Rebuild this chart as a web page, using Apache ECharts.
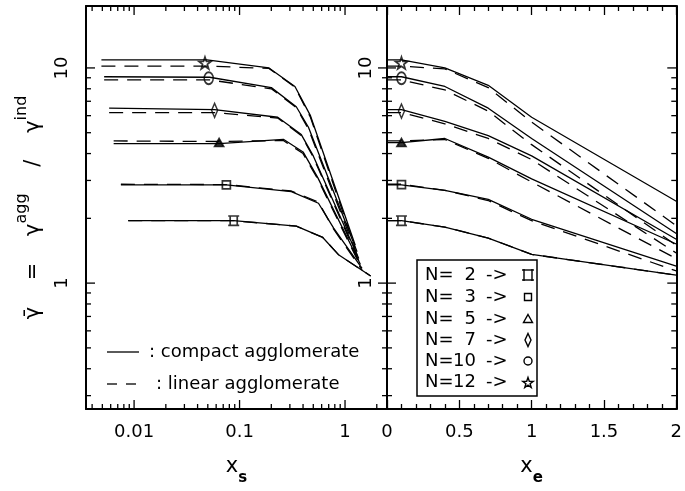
<!DOCTYPE html>
<html><head><meta charset="utf-8">
<script src="https://cdn.jsdelivr.net/npm/echarts@6/dist/echarts.min.js"></script>
<style>html,body{margin:0;padding:0;background:#fff}#c{width:685px;height:491px}</style>
</head><body><div id="c"></div>
<script>
// ---------- data ----------
// left panel: x_s (log) ; y = gamma ratio (log)
const left_x_N12 = [0.0049, 0.049, 0.19, 0.335, 0.47, 1.25];
const left_compact_N12 = [10.9, 10.9, 10.0, 8.2, 6.0, 1.5];
const left_linear_N12 = [10.2, 10.2, 9.95, 8.15, 5.9, 1.45];
const left_x_N10 = [0.0052, 0.052, 0.2, 0.345, 0.45, 1.3];
const left_compact_N10 = [9.1, 9.05, 8.1, 6.6, 5.3, 1.4];
const left_linear_N10 = [8.8, 8.8, 8.0, 6.55, 5.2, 1.35];
const left_x_N7 = [0.0058, 0.058, 0.23, 0.385, 0.5, 1.35];
const left_compact_N7 = [6.5, 6.4, 5.9, 4.9, 3.9, 1.3];
const left_linear_N7 = [6.2, 6.2, 5.85, 4.85, 3.85, 1.27];
const left_x_N5 = [0.0064, 0.064, 0.26, 0.4, 0.55, 1.4];
const left_compact_N5 = [4.45, 4.45, 4.66, 4.07, 3.1, 1.22];
const left_linear_N5 = [4.58, 4.55, 4.6, 4.0, 3.05, 1.2];
const left_x_N3 = [0.0075, 0.075, 0.31, 0.56, 0.78, 1.45];
const left_compact_N3 = [2.86, 2.86, 2.66, 2.35, 1.8, 1.17];
const left_linear_N3 = [2.88, 2.87, 2.68, 2.38, 1.78, 1.15];
const left_x_N2 = [0.0088, 0.088, 0.345, 0.615, 0.875, 1.75];
const left_compact_N2 = [1.95, 1.95, 1.84, 1.63, 1.35, 1.08];
const left_linear_N2 = [1.95, 1.95, 1.84, 1.63, 1.35, 1.08];

// right panel: x_e (linear)
const right_x = [0, 0.1, 0.4, 0.7, 1.0, 2.0];
const right_compact_N12 = [10.9, 10.9, 10.0, 8.3, 5.9, 2.4];
const right_linear_N12 = [10.2, 10.2, 9.9, 8.1, 5.6, 1.85];
const right_compact_N10 = [9.1, 9.1, 8.2, 6.5, 4.7, 1.7];
const right_linear_N10 = [8.8, 8.8, 7.9, 6.3, 4.4, 1.5];
const right_compact_N7 = [6.4, 6.4, 5.65, 4.85, 3.9, 1.6];
const right_linear_N7 = [6.2, 6.2, 5.5, 4.7, 3.75, 1.38];
const right_compact_N5 = [4.5, 4.5, 4.7, 3.85, 3.05, 1.52];
const right_linear_N5 = [4.58, 4.58, 4.65, 3.8, 2.95, 1.3];
const right_compact_N3 = [2.86, 2.86, 2.7, 2.45, 1.98, 1.2];
const right_linear_N3 = [2.88, 2.88, 2.7, 2.42, 1.95, 1.14];
const right_compact_N2 = [1.95, 1.95, 1.82, 1.62, 1.36, 1.09];
const right_linear_N2 = [1.95, 1.95, 1.82, 1.62, 1.36, 1.09];

// marker positions
const markerNames = ['N=2', 'N=3', 'N=5', 'N=7', 'N=10', 'N=12'];
const markerLeftX = [0.088, 0.075, 0.064, 0.058, 0.051, 0.047];
const markerLeftY = [1.95, 2.86, 4.5, 6.35, 8.95, 10.55];
const markerRightX = [0.1, 0.1, 0.1, 0.1, 0.1, 0.1];
const markerRightY = [1.95, 2.87, 4.5, 6.3, 8.95, 10.55];

// tick values
const xsMajorTicks = [0.01, 0.1, 1];
const xsMinorTicks = [0.004,0.005,0.006,0.007,0.008,0.009,0.02,0.03,0.04,0.05,0.06,0.07,0.08,0.09,0.2,0.3,0.4,0.5,0.6,0.7,0.8,0.9,2];
const yMajorTicks = [1, 10];
const yMinorTicks = [0.3,0.4,0.5,0.6,0.7,0.8,0.9,2,3,4,5,6,7,8,9];
const legendNums = ['2', '3', '5', '7', '10', '12'];

// ---------- chart ----------
const black = '#000';
const FF = 'DejaVu Sans';
const zip = (xs, ys) => xs.map((x, i) => [x, ys[i]]);
const isPow10 = v => { const l = Math.log10(v); return Math.abs(l - Math.round(l)) < 1e-6; };
const logFmt = v => isPow10(v) ? String(Number(Math.pow(10, Math.round(Math.log10(v))).toPrecision(6))) : '';

const starPath = 'path://M0,-10 L2.35,-3.24 L9.51,-3.09 L3.8,1.24 L5.88,8.09 L0,4 L-5.88,8.09 L-3.8,1.24 L-9.51,-3.09 L-2.35,-3.24 Z';
const boxPath = 'path://M0,1 H14 M0,13 H14 M2.5,0 V14 M11.5,0 V14';
const diamondPath = 'path://M0,-7 L3,0 L0,7 L-3,0 Z';
const markerSymbols = [boxPath, 'rect', 'triangle', diamondPath, 'circle', starPath];
const markerSizes = [[11, 11], [8, 8], [9, 8], [6, 14], [9, 12], [12, 12]];
const markerFill = ['transparent', 'transparent', '#000', 'transparent', 'transparent', 'transparent'];

const series = [];
function addLine(xs, ys, xi, yi, dashed) {
  series.push({
    type: 'line', xAxisIndex: xi, yAxisIndex: yi, data: zip(xs, ys),
    showSymbol: false, symbol: 'none', silent: true,
    lineStyle: { color: black, width: 1.3, type: dashed ? [14, 9] : 'solid' },
    z: dashed ? 2 : 3
  });
}
const leftSets = [
  [left_x_N2, left_compact_N2, left_linear_N2],
  [left_x_N3, left_compact_N3, left_linear_N3],
  [left_x_N5, left_compact_N5, left_linear_N5],
  [left_x_N7, left_compact_N7, left_linear_N7],
  [left_x_N10, left_compact_N10, left_linear_N10],
  [left_x_N12, left_compact_N12, left_linear_N12]
];
leftSets.forEach(s => { addLine(s[0], s[2], 0, 0, true); addLine(s[0], s[1], 0, 0, false); });
const rightSets = [
  [right_compact_N2, right_linear_N2],
  [right_compact_N3, right_linear_N3],
  [right_compact_N5, right_linear_N5],
  [right_compact_N7, right_linear_N7],
  [right_compact_N10, right_linear_N10],
  [right_compact_N12, right_linear_N12]
];
rightSets.forEach(s => { addLine(right_x, s[1], 2, 2, true); addLine(right_x, s[0], 2, 2, false); });

markerNames.forEach((n, i) => {
  const common = {
    type: 'scatter', symbol: markerSymbols[i], symbolSize: markerSizes[i], silent: true, z: 5,
    itemStyle: { color: markerFill[i], borderColor: black, borderWidth: 1.7 }
  };
  series.push(Object.assign({}, common, { name: n, xAxisIndex: 0, yAxisIndex: 0, data: [[markerLeftX[i], markerLeftY[i]]] }));
  series.push(Object.assign({}, common, { name: n, xAxisIndex: 2, yAxisIndex: 2, data: [[markerRightX[i], markerRightY[i]]] }));
});

function tickLine(x1, y1, x2, y2) {
  return { type: 'line', shape: { x1, y1, x2, y2 }, style: { stroke: black, lineWidth: 1.3 } };
}
// log tick marks drawn through the axis scales
series.push({
  type: 'custom', xAxisIndex: 0, yAxisIndex: 0, data: [[0.1, 1]], silent: true, z: 6, clip: false,
  renderItem: (params, api) => {
    const cs = params.coordSys;
    const ch = [];
    const bot = cs.y + cs.height, top = cs.y, L = cs.x, R = cs.x + cs.width;
    xsMinorTicks.forEach(v => { const px = api.coord([v, 1])[0]; ch.push(tickLine(px, bot, px, bot - 5), tickLine(px, top, px, top + 5)); });
    xsMajorTicks.forEach(v => { const px = api.coord([v, 1])[0]; ch.push(tickLine(px, bot, px, bot - 9), tickLine(px, top, px, top + 9)); });
    yMinorTicks.forEach(v => { const py = api.coord([0.1, v])[1]; ch.push(tickLine(L, py, L + 5, py), tickLine(R, py, R - 5, py)); });
    yMajorTicks.forEach(v => { const py = api.coord([0.1, v])[1]; ch.push(tickLine(L, py, L + 9, py), tickLine(R, py, R - 9, py)); });
    return { type: 'group', children: ch };
  }
});
series.push({
  type: 'custom', xAxisIndex: 2, yAxisIndex: 2, data: [[1, 1]], silent: true, z: 6, clip: false,
  renderItem: (params, api) => {
    const cs = params.coordSys;
    const ch = [];
    const L = cs.x, R = cs.x + cs.width;
    yMinorTicks.forEach(v => { const py = api.coord([1, v])[1]; ch.push(tickLine(L, py, L + 5, py), tickLine(R, py, R - 5, py)); });
    yMajorTicks.forEach(v => { const py = api.coord([1, v])[1]; ch.push(tickLine(L, py, L + 9, py), tickLine(R, py, R - 9, py)); });
    return { type: 'group', children: ch };
  }
});

const axLine = { show: true, onZero: false, lineStyle: { color: black, width: 2 } };
const lbl = { color: black, fontSize: 18, fontFamily: FF };
const ymin = 0.26, ymax = 19.4;
const xsmin = 0.0035, xsmax = 2.5;

const option = {
  animation: false,
  backgroundColor: '#fff',
  grid: [
    { left: 86, top: 6, width: 301, height: 403 },
    { left: 387, top: 6, width: 297, height: 403 }
  ],
  xAxis: [
    { gridIndex: 0, type: 'log', min: xsmin, max: xsmax, position: 'bottom', axisLine: axLine,
      axisTick: { show: false }, minorTick: { show: false }, splitLine: { show: false },
      axisLabel: Object.assign({ formatter: logFmt, margin: 14, showMinLabel: false, showMaxLabel: false }, lbl),
      name: '{x|x}{s|s}', nameLocation: 'middle', nameGap: 47,
      nameTextStyle: { rich: { x: { fontSize: 21, fontFamily: FF, color: black, lineHeight: 30, verticalAlign: 'top' },
                               s: { fontSize: 15, fontFamily: FF, fontWeight: 'bold', color: black, lineHeight: 15, verticalAlign: 'bottom' } } } },
    { gridIndex: 0, type: 'log', min: xsmin, max: xsmax, position: 'top', axisLine: axLine,
      axisTick: { show: false }, axisLabel: { show: false }, splitLine: { show: false } },
    { gridIndex: 1, type: 'value', min: 0, max: 2, interval: 0.5, position: 'bottom', axisLine: axLine,
      axisTick: { show: true, inside: true, length: 9, lineStyle: { color: black, width: 1.3 } },
      minorTick: { show: true, splitNumber: 5, length: 5, lineStyle: { color: black, width: 1.3 } },
      splitLine: { show: false }, minorSplitLine: { show: false },
      axisLabel: Object.assign({ formatter: v => String(v), margin: 14, hideOverlap: false, alignMaxLabel: 'center', alignMinLabel: 'center' }, lbl),
      name: '{x|x}{s|e}', nameLocation: 'middle', nameGap: 47,
      nameTextStyle: { rich: { x: { fontSize: 21, fontFamily: FF, color: black, lineHeight: 30, verticalAlign: 'top' },
                               s: { fontSize: 15, fontFamily: FF, fontWeight: 'bold', color: black, lineHeight: 15, verticalAlign: 'bottom' } } } },
    { gridIndex: 1, type: 'value', min: 0, max: 2, interval: 0.5, position: 'top', axisLine: axLine,
      axisTick: { show: true, inside: true, length: 9, lineStyle: { color: black, width: 1.3 } },
      minorTick: { show: true, splitNumber: 5, length: 5, lineStyle: { color: black, width: 1.3 } },
      splitLine: { show: false }, axisLabel: { show: false } }
  ],
  yAxis: [
    { gridIndex: 0, type: 'log', min: ymin, max: ymax, position: 'left', axisLine: axLine,
      axisTick: { show: false }, splitLine: { show: false },
      axisLabel: Object.assign({ formatter: logFmt, rotate: 90, margin: 15, showMinLabel: false, showMaxLabel: false }, lbl),
      name: '{m|γ̄    =    γ}{s|agg}{m|    /    γ}{s|ind}', nameLocation: 'middle', nameGap: 42, nameRotate: 90,
      nameTextStyle: { rich: { m: { fontSize: 21, fontFamily: FF, color: black, lineHeight: 30, verticalAlign: 'bottom' },
                               s: { fontSize: 16, fontFamily: FF, color: black, lineHeight: 16, verticalAlign: 'top' } } } },
    { gridIndex: 0, type: 'log', min: ymin, max: ymax, position: 'right', axisLine: axLine,
      axisTick: { show: false }, splitLine: { show: false }, axisLabel: { show: false } },
    { gridIndex: 1, type: 'log', min: ymin, max: ymax, position: 'left', axisLine: axLine,
      axisTick: { show: false }, splitLine: { show: false },
      axisLabel: Object.assign({ formatter: logFmt, rotate: 90, margin: 12, showMinLabel: false, showMaxLabel: false }, lbl) },
    { gridIndex: 1, type: 'log', min: ymin, max: ymax, position: 'right', axisLine: axLine,
      axisTick: { show: false }, splitLine: { show: false }, axisLabel: { show: false } }
  ],
  series: series,
  graphic: (function () {
    const g = [];
    const font = '18px "DejaVu Sans"';
    const ln = (x1, y1, x2, y2, w) => ({ type: 'line', shape: { x1, y1, x2, y2 }, style: { stroke: black, lineWidth: w || 1.3 }, z: 11 });
    // left-panel line-style key
    g.push(ln(107, 352, 139, 352));
    g.push({ type: 'text', x: 149, y: 352, style: { text: ': compact agglomerate', font, fill: black, verticalAlign: 'middle', align: 'left' }, z: 10 });
    g.push(ln(107, 384, 117, 384));
    g.push(ln(126, 384, 136, 384));
    g.push({ type: 'text', x: 156, y: 384, style: { text: ': linear agglomerate', font, fill: black, verticalAlign: 'middle', align: 'left' }, z: 10 });
    // right-panel symbol key
    g.push({ type: 'rect', shape: { x: 417, y: 260, width: 120, height: 136 }, style: { fill: '#fff', stroke: black, lineWidth: 1.5 }, z: 10 });
    const rows = [275, 297, 319, 340, 361, 382];
    const sx = 528;
    const sty = { fill: 'none', stroke: black, lineWidth: 1.4 };
    legendNums.forEach((n, i) => {
      const y = rows[i];
      g.push({ type: 'text', x: 425, y, style: { text: 'N=', font, fill: black, verticalAlign: 'middle', align: 'left' }, z: 11 });
      g.push({ type: 'text', x: 476, y, style: { text: n, font, fill: black, verticalAlign: 'middle', align: 'right' }, z: 11 });
      g.push({ type: 'text', x: 486, y, style: { text: '->', font, fill: black, verticalAlign: 'middle', align: 'left' }, z: 11 });
      if (i === 0) {
        g.push(ln(sx - 6, y - 5, sx + 6, y - 5, 1.4), ln(sx - 6, y + 5, sx + 6, y + 5, 1.4),
               ln(sx - 4, y - 6, sx - 4, y + 6, 1.4), ln(sx + 4, y - 6, sx + 4, y + 6, 1.4));
        return;
      }
      let s;
      if (i === 1) s = { type: 'rect', shape: { x: sx - 3.5, y: y - 3.5, width: 7, height: 7 }, style: sty };
      else if (i === 2) s = { type: 'polygon', shape: { points: [[sx, y - 4.5], [sx + 4.5, y + 3.5], [sx - 4.5, y + 3.5]] }, style: sty };
      else if (i === 3) s = { type: 'polygon', shape: { points: [[sx, y - 6.5], [sx + 3, y], [sx, y + 6.5], [sx - 3, y]] }, style: sty };
      else if (i === 4) s = { type: 'circle', shape: { cx: sx, cy: y, r: 4 }, style: sty };
      else {
        const pts = [];
        for (let k = 0; k < 10; k++) { const a = -Math.PI / 2 + k * Math.PI / 5; const r = k % 2 ? 2.2 : 5.5; pts.push([sx + r * Math.cos(a), y + 1 + r * Math.sin(a)]); }
        s = { type: 'polygon', shape: { points: pts }, style: sty };
      }
      s.z = 11;
      g.push(s);
    });
    return g;
  })()
};
const chart = echarts.init(document.getElementById('c'), null, { renderer: 'canvas' });
chart.setOption(option);
</script>
</body></html>
